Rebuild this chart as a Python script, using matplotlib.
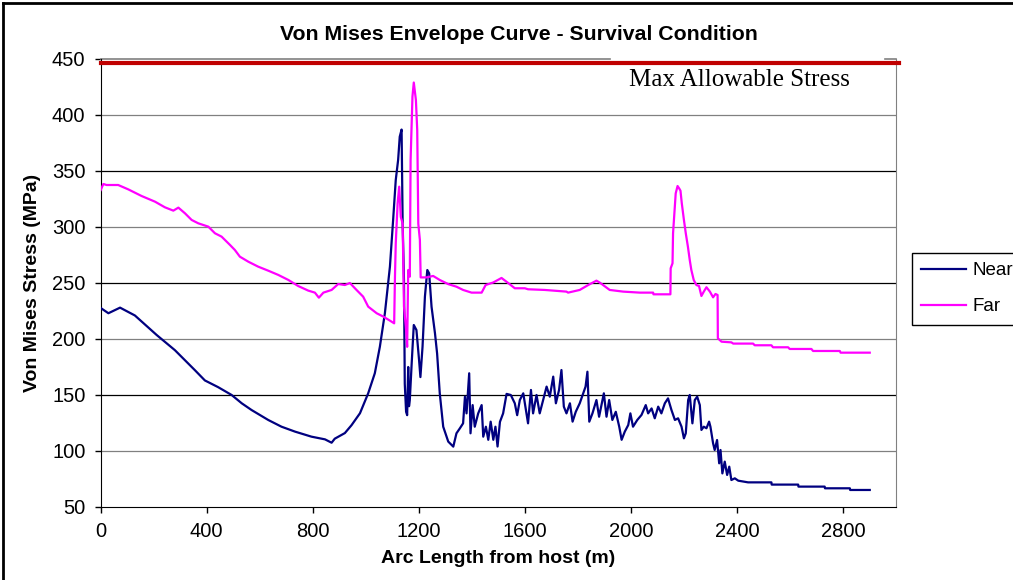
import matplotlib
matplotlib.use("Agg")
import matplotlib.pyplot as plt
from matplotlib.lines import Line2D

# ---- data -------------------------------------------------------------
near_x = [0, 29, 73, 129, 211, 280, 356, 393, 443, 494, 532, 569, 632, 682, 733,
          795, 846, 871, 883, 921, 946, 978, 1009, 1034, 1053, 1072, 1091, 1103,
          1113, 1122, 1128, 1135, 1139, 1144, 1147, 1152, 1156, 1160, 1163, 1166,
          1173, 1181, 1191, 1201, 1206, 1214, 1223, 1232, 1239, 1248, 1261, 1269,
          1279, 1292, 1311, 1330, 1342, 1355, 1367, 1374, 1380, 1390, 1395, 1403,
          1411, 1424, 1437, 1443, 1453, 1462, 1471, 1481, 1489, 1497, 1506, 1518,
          1531, 1547, 1562, 1571, 1581, 1594, 1604, 1612, 1623, 1631, 1644, 1656,
          1669, 1682, 1694, 1707, 1717, 1729, 1738, 1747, 1757, 1770, 1780, 1792,
          1807, 1820, 1829, 1836, 1843, 1855, 1870, 1880, 1889, 1898, 1908, 1918,
          1930, 1943, 1956, 1965, 1977, 1990, 1998, 2008, 2024, 2040, 2056, 2065,
          2078, 2090, 2103, 2115, 2128, 2140, 2153, 2166, 2178, 2191, 2200, 2207,
          2216, 2222, 2232, 2241, 2250, 2260, 2266, 2275, 2285, 2295, 2300, 2310,
          2316, 2325, 2333, 2338, 2345, 2354, 2363, 2371, 2379, 2392, 2405, 2442,
          2530, 2531, 2631, 2632, 2731, 2732, 2826, 2827, 2901]
near_y = [227.7, 223, 228, 221, 203.6, 190, 172, 163, 157, 150, 142.6, 136.6, 127.7,
          121.7, 117.3, 112.8, 110.4, 107.4, 111, 116, 123, 133.7, 151.5, 169.4, 193,
          223, 264.6, 306, 342, 360, 380.6, 387, 303, 252.7, 160, 135, 132, 175, 140,
          145.5, 178, 212.5, 208, 181, 166, 193, 237.8, 261.6, 258.6, 228.8, 205, 187,
          151.5, 121.7, 108.4, 103.9, 115.8, 120.3, 124.7, 148.5, 133.6, 169.4, 115.8,
          141, 121.7, 133.6, 141, 112.8, 121.7, 110, 126.2, 110, 121.7, 104, 126, 133.6,
          151, 150, 142.6, 132, 145.5, 151.5, 136.6, 124.7, 154.5, 133.6, 150, 133.6,
          145.5, 157.5, 148.5, 166.4, 142.6, 154.5, 172.3, 139.6, 133.6, 142.6, 126.2,
          135, 142.6, 151.5, 157.5, 170.8, 126.2, 133.6, 145.5, 130.6, 141, 151.5,
          130.6, 145.5, 127.7, 135, 121.7, 110, 117.3, 123.2, 133.6, 121.7, 127.7,
          132.2, 141, 133.6, 138, 129.2, 139.6, 133.6, 142.6, 147, 136.6, 127.7, 129.2,
          121.7, 111.3, 115.8, 145.5, 150, 124.7, 145.5, 148.5, 141, 118.8, 121.7,
          120.3, 126.2, 121.7, 106.9, 100.9, 109.8, 89, 100.9, 80, 90.5, 78.6, 86,
          74.1, 75.6, 73.5, 72, 72, 70, 70, 68.2, 68.2, 66.7, 66.7, 65.2, 65.2]

far_x = [0, 10, 22, 66, 104, 154, 205, 242, 274, 293, 318, 343, 368, 406, 431, 456,
         488, 506, 525, 557, 594, 632, 670, 708, 745, 783, 808, 823, 840, 871, 896,
         921, 940, 965, 990, 1009, 1041, 1066, 1091, 1107, 1110, 1113, 1120, 1126,
         1132, 1139, 1144, 1151, 1156, 1160, 1166, 1169, 1176, 1181, 1189, 1194,
         1198, 1204, 1207, 1229, 1254, 1279, 1311, 1342, 1367, 1399, 1437, 1452,
         1481, 1512, 1537, 1562, 1600, 1612, 1675, 1757, 1763, 1807, 1839, 1870,
         1883, 1920, 1971, 2034, 2084, 2085, 2149, 2150, 2157, 2159, 2164, 2169,
         2176, 2182, 2187, 2192, 2200, 2207, 2215, 2222, 2228, 2237, 2247, 2257,
         2266, 2275, 2285, 2298, 2310, 2319, 2327, 2328, 2342, 2379, 2386, 2461,
         2467, 2530, 2536, 2593, 2599, 2681, 2687, 2788, 2791, 2901]
far_y = [333, 338.4, 337.5, 337.5, 333.6, 327.7, 322.6, 317.6, 314.6, 317.3, 312.2,
         306.3, 303.3, 300.3, 294.4, 291.4, 283.9, 279.5, 273.5, 269, 264.6, 261,
         257.2, 252.7, 247.3, 243.2, 241.4, 236.9, 241.4, 243.8, 249.1, 248.2, 250,
         243.8, 237.8, 228.9, 223, 220, 216.4, 214, 255.7, 285.4, 321, 336, 309, 303,
         229, 211, 193, 261.6, 255.7, 360, 416.4, 429, 413.4, 386.6, 303, 288.4, 255,
         255, 256.3, 252.7, 249, 246.7, 243.8, 241.4, 241.4, 248.2, 250.5, 254.5,
         250, 245.3, 245.3, 244.4, 243.8, 242.3, 241.4, 243.8, 248.2, 252.1, 250.3,
         243.8, 242.3, 241.4, 241.4, 239.9, 239.9, 263.1, 267.6, 294.4, 312.2, 330,
         336.6, 334.5, 332.4, 321.1, 306.3, 294.4, 282.5, 270.5, 261.6, 252.7, 248.2,
         247.3, 238.4, 242.3, 246.2, 242.3, 237.2, 240.2, 239.3, 200.6, 197.6, 197,
         195.9, 195.9, 194.4, 194.4, 192.6, 192.6, 191.1, 191.1, 189.3, 189.3, 187.8,
         187.8]

max_allowable = 446
x_ticks = [0, 400, 800, 1200, 1600, 2000, 2400, 2800]
y_ticks = [50, 100, 150, 200, 250, 300, 350, 400, 450]

# ---- figure -----------------------------------------------------------
W, H = 1013, 580
fig = plt.figure(figsize=(W / 100, H / 100), dpi=100)
fig.patch.set_facecolor("white")
ax = fig.add_axes([100.7 / W, 1 - 507 / H, (896 - 100.7) / W, (507 - 59) / H])

sans = "Liberation Sans"
serif = "Liberation Serif"

# horizontal gridlines (alternating tones)
for v in y_ticks[1:-1]:
    ax.axhline(v, color="black" if v % 100 == 50 else "#808080", lw=0.9, zorder=1)

near_line, = ax.plot(near_x, near_y, color="#000080", lw=1.6, zorder=3, label="Near")
far_line, = ax.plot(far_x, far_y, color="#FF00FF", lw=1.6, zorder=3, label="Far")

# allowable-stress limit
ax.plot([0, 3010], [max_allowable, max_allowable], color="#C00000", lw=3,
        clip_on=False, zorder=5)
ax.text(2410, 431, "Max Allowable Stress", family=serif, fontsize=18,
        ha="center", va="center", zorder=6)

ax.set_xlim(0, 3000)
ax.set_ylim(50, 450)
ax.set_xticks(x_ticks)
ax.set_yticks(y_ticks)
ax.tick_params(axis="both", direction="out", length=4, width=1, colors="black",
               labelsize=14.5, pad=7)
for lab in ax.get_xticklabels() + ax.get_yticklabels():
    lab.set_family(sans)

ax.spines["left"].set_color("black")
ax.spines["bottom"].set_color("black")
ax.spines["right"].set_color("#808080")
ax.spines["top"].set_visible(False)
# top frame, interrupted by the label panel
ax.plot([0, 1920], [450, 450], color="#808080", lw=1.2, clip_on=False, zorder=2)
ax.plot([2957, 3000], [450, 450], color="#808080", lw=1.2, clip_on=False, zorder=2)

ax.set_xlabel("Arc Length from host (m)", family=sans, fontsize=14,
              fontweight="bold", labelpad=6)
ax.set_ylabel("Von Mises Stress (MPa)", family=sans, fontsize=14,
              fontweight="bold", labelpad=8)
fig.text(519 / W, 1 - 34 / H, "Von Mises Envelope Curve - Survival Condition",
         family=sans, fontsize=15.3, fontweight="bold", ha="center", va="center")

leg = fig.legend(handles=[near_line, far_line], loc="upper left",
                 bbox_to_anchor=(912 / W, 1 - 253 / H), frameon=True,
                 fancybox=False, edgecolor="black", framealpha=1,
                 prop={"family": sans, "size": 13.5}, handlelength=2.4,
                 handletextpad=0.35, borderpad=0.5, labelspacing=1.0,
                 borderaxespad=0)
leg.get_frame().set_linewidth(1)

# outer chart border (top and left edges)
fig.add_artist(Line2D([3 / W, 1], [1 - 3 / H, 1 - 3 / H], color="black", lw=2,
                      transform=fig.transFigure))
fig.add_artist(Line2D([3 / W, 3 / W], [0, 1 - 3 / H], color="black", lw=2,
                      transform=fig.transFigure))

fig.savefig("out.png", dpi=100)
